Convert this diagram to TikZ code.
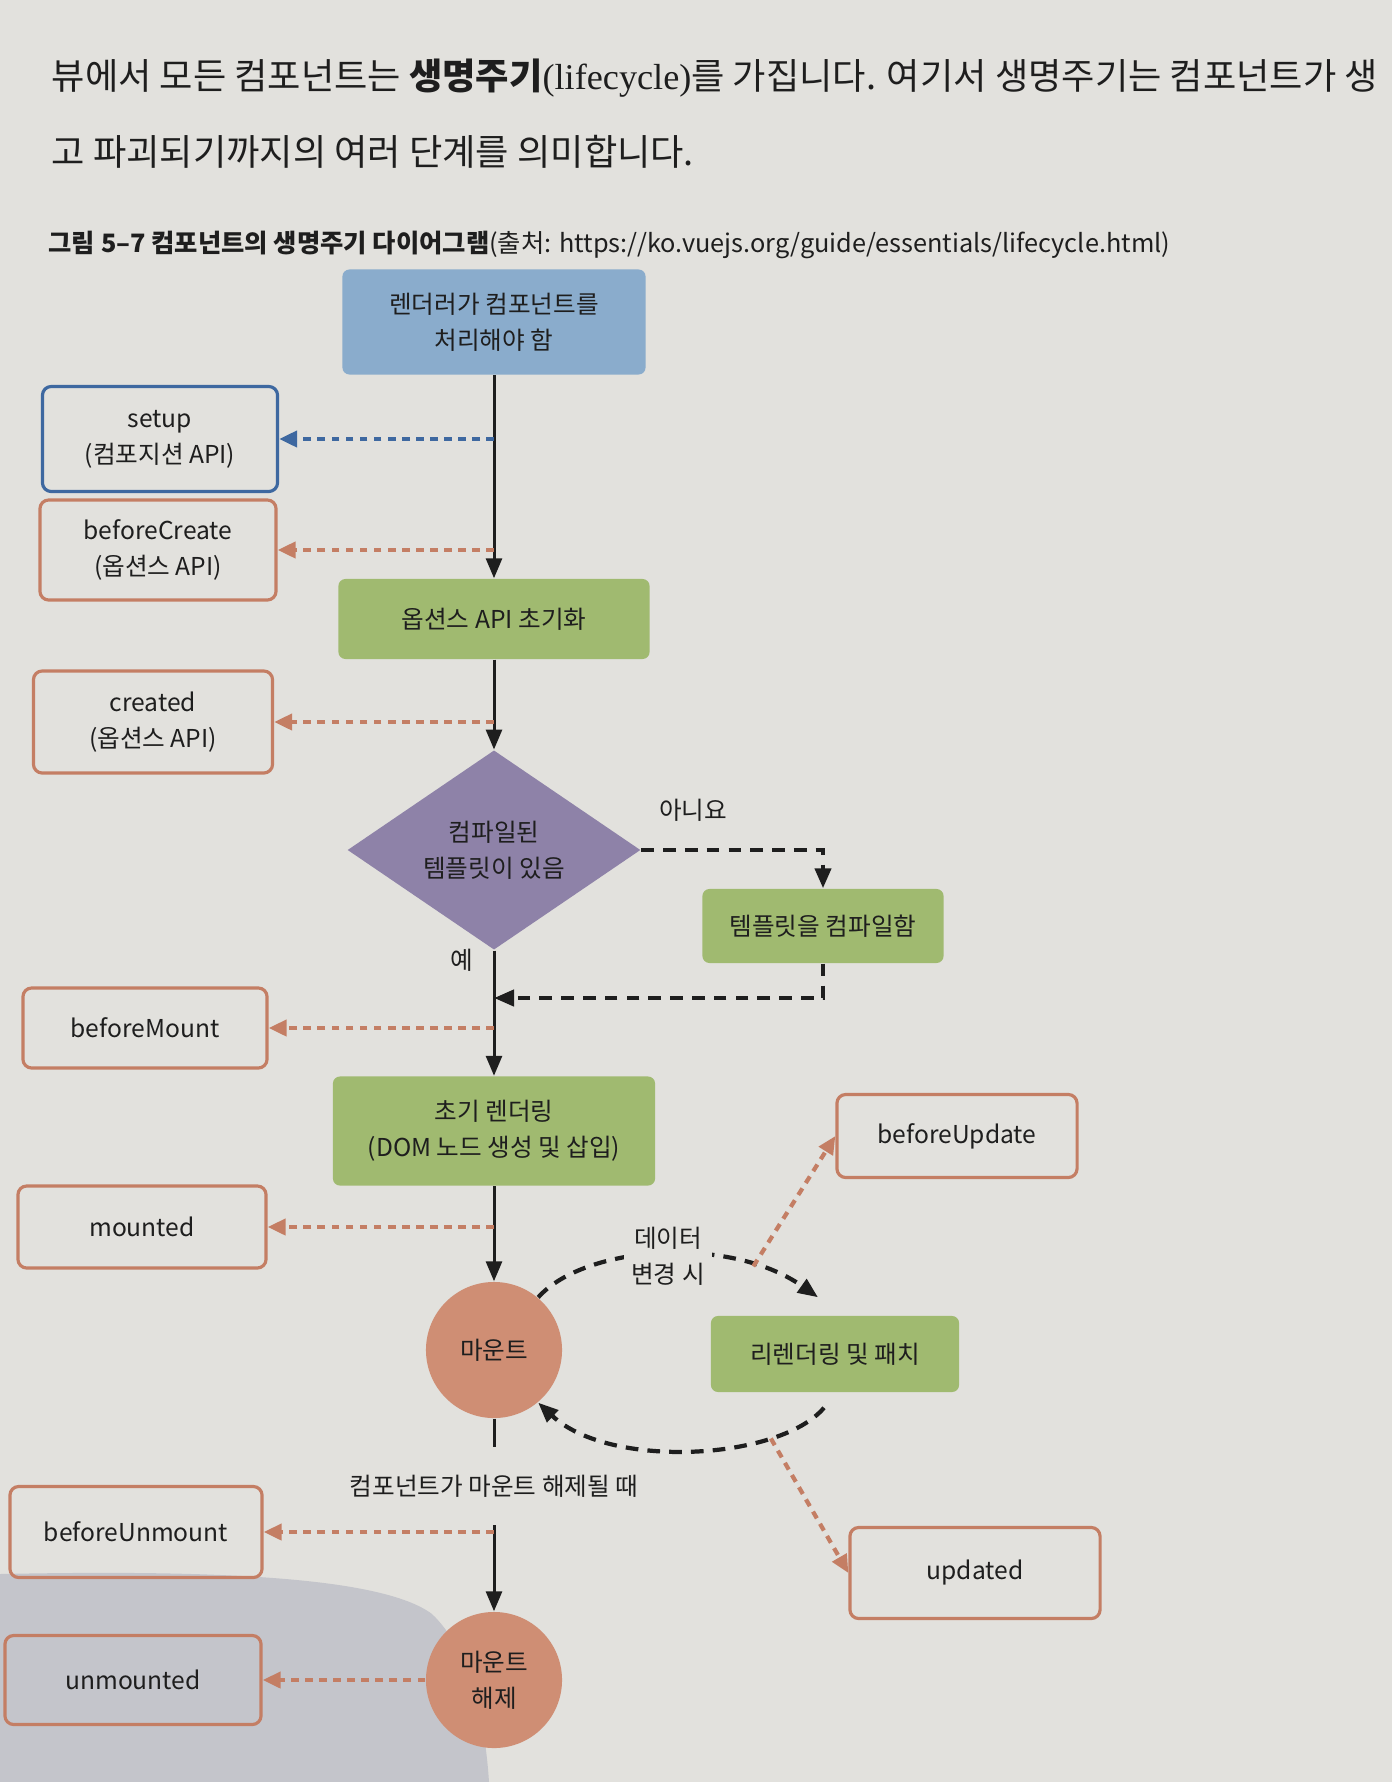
\documentclass[tikz,border=0pt]{standalone}
\usepackage{fontspec}
\setmainfont{Noto Sans CJK KR}
\newfontfamily\latinserif{Liberation Serif}
\usepackage{tikz}
\usetikzlibrary{
  arrows.meta,
  positioning,
  shapes.geometric
}
\definecolor{paper}{RGB}{226,225,221}
\definecolor{pageshade}{RGB}{196,197,203}
\definecolor{inkgray}{RGB}{30,30,30}
\definecolor{renderblue}{RGB}{138,172,204}
\definecolor{setupblue}{RGB}{62,104,160}
\definecolor{phasegreen}{RGB}{160,186,112}
\definecolor{testpurple}{RGB}{142,130,168}
\definecolor{statepeach}{RGB}{207,142,116}
\definecolor{hookorange}{RGB}{196,126,100}

\begin{document}
\begin{tikzpicture}[x=0.01cm, y=-0.01cm,
  every node/.style = {font=\fontsize{7}{10.2}\selectfont, text=inkgray, align=center},
  start/.style      = {rectangle, rounded corners=2pt, fill=renderblue, minimum width=3.03cm, minimum height=1.05cm},
  phase/.style      = {rectangle, rounded corners=2pt, fill=phasegreen, minimum height=0.8cm},
  decide/.style     = {diamond, fill=testpurple, minimum width=2.93cm, minimum height=1.77cm, inner sep=0pt},
  state/.style      = {circle, fill=statepeach, minimum size=1.36cm, inner sep=0pt},
  hook/.style       = {rectangle, rounded corners=2.5pt, draw=hookorange, line width=0.9pt, minimum width=2.4cm, minimum height=0.82cm},
  apihook/.style    = {hook, draw=setupblue},
  flow/.style       = {line width=0.85pt, color=inkgray, -{Triangle[length=0.2cm, width=0.16cm]}},
  branch/.style     = {line width=1.2pt, color=inkgray, dash pattern=on 3.6pt off 2.6pt, -{Triangle[length=0.2cm, width=0.16cm]}},
  hookline/.style   = {line width=1.2pt, color=hookorange, dash pattern=on 2.2pt off 1.8pt, -{Triangle[length=0.18cm, width=0.16cm]}},
  apiline/.style    = {hookline, color=setupblue}
]
  % Page
  \useasboundingbox (0,0) rectangle (1392,1782);
  \clip (0,0) rectangle (1392,1782);
  \fill[paper] (0,0) rectangle (1392,1782);
  \fill[pageshade] (0,1574) .. controls (200,1570) and (380,1575) .. (432,1614)
                   .. controls (470,1650) and (485,1720) .. (489,1782) -- (0,1782) -- cycle;

  % Page text
  \node[anchor=west, inner xsep=0pt, font=\fontsize{10.3}{13}\selectfont] (intro1) at (51,78)
    {뷰에서 모든 컴포넌트는 \textbf{생명주기}{\latinserif (lifecycle)}를 가집니다. 여기서 생명주기는 컴포넌트가 생};
  \node[anchor=west, inner xsep=0pt, font=\fontsize{10.3}{13}\selectfont] (intro2) at (51,152)
    {고 파괴되기까지의 여러 단계를 의미합니다.};
  \node[anchor=west, inner xsep=0pt, font=\fontsize{7.2}{9}\selectfont] (caption) at (48,245)
    {\textbf{그림 5–7 컴포넌트의 생명주기 다이어그램}(출처: https://ko.vuejs.org/guide/essentials/lifecycle.html)};

  % Creation
  \node[start] (render) at (494,322) {렌더러가 컴포넌트를\\처리해야 함};
  \node[apihook, minimum width=2.35cm, minimum height=1.05cm] (setup) at (160,439) {setup\\(컴포지션 API)};
  \node[hook, minimum width=2.36cm, minimum height=1.0cm] (beforecreate) at (158,550) {beforeCreate\\(옵션스 API)};
  \node[phase, minimum width=3.11cm] (optinit) at (494,619) {옵션스 API 초기화};
  \node[hook, minimum width=2.39cm, minimum height=1.02cm] (created) at (153,722) {created\\(옵션스 API)};

  % Template
  \node[decide] (compiled) at (494,850) {컴파일된\\템플릿이 있음};
  \node (no) at (693,810) {아니요};
  \node (yes) at (462,960) {예};
  \node[phase, minimum width=2.41cm, minimum height=0.74cm] (compile) at (823,926) {템플릿을 컴파일함};
  \coordinate (merge) at (494,998);

  % Mounting
  \node[hook, minimum width=2.44cm, minimum height=0.8cm] (beforemount) at (145,1028) {beforeMount};
  \node[phase, minimum width=3.22cm, minimum height=1.09cm] (firstrender) at (494,1131) {초기 렌더링\\(DOM 노드 생성 및 삽입)};
  \node[hook, minimum width=2.48cm] (mounted) at (142,1227) {mounted};
  \node[state] (mount) at (494,1350) {마운트};

  % Updating
  \node[hook, minimum width=2.4cm, minimum height=0.83cm] (beforeupdate) at (957,1136) {beforeUpdate};
  \node[phase, minimum width=2.48cm, minimum height=0.76cm] (rerender) at (835,1354) {리렌더링 및 패치};
  \node[hook, minimum width=2.5cm, minimum height=0.91cm] (updated) at (975,1573) {updated};

  % Unmounting
  \node[hook, minimum width=2.52cm, minimum height=0.91cm] (beforeunmount) at (136,1532) {beforeUnmount};
  \node[hook, minimum width=2.56cm, minimum height=0.89cm] (unmounted) at (133,1680) {unmounted};
  \node[state] (unmount) at (494,1680) {마운트\\해제};

  % Main flow
  \draw[flow] (render) -- (optinit);
  \draw[flow] (optinit) -- (compiled);
  \draw[flow] (compiled) -- (firstrender);
  \draw[flow] (firstrender) -- (mount);
  \draw[flow] (mount) -- node[pos=0.35, fill=paper, inner xsep=1pt, inner ysep=8pt] (unmountnote) {컴포넌트가 마운트 해제될 때} (unmount);

  % Compile branch
  \draw[branch] (compiled.east) -| (compile.north);
  \draw[branch] (compile.south) |- (merge);

  % Update loop
  \draw[branch] (mount.50) .. controls (585,1245) and (730,1235) .. ([xshift=-0.17cm, yshift=0.18cm]rerender.north)
    coordinate[pos=0.78] (toupdate);
  \draw[branch] ([xshift=-0.11cm, yshift=-0.15cm]rerender.south) .. controls (780,1460) and (610,1470) .. (mount.-50)
    coordinate[pos=0.25] (toupdated);
  \node[fill=paper, inner sep=2pt] (datachange) at (668,1256) {데이터\\변경 시};

  % Hooks
  \draw[apiline]  (setup.east -| render.south) -- (setup.east);
  \draw[hookline] (beforecreate.east -| render.south) -- (beforecreate.east);
  \draw[hookline] (created.east -| optinit.south) -- (created.east);
  \draw[hookline] (beforemount.east -| compiled.south) -- (beforemount.east);
  \draw[hookline] (mounted.east -| firstrender.south) -- (mounted.east);
  \draw[hookline] (toupdate) -- (beforeupdate.west);
  \draw[hookline] (toupdated) -- (updated.west);
  \draw[hookline] (beforeunmount.east -| mount.south) -- (beforeunmount.east);
  \draw[hookline] (unmount.west) -- (unmounted.east);
\end{tikzpicture}
\end{document}
